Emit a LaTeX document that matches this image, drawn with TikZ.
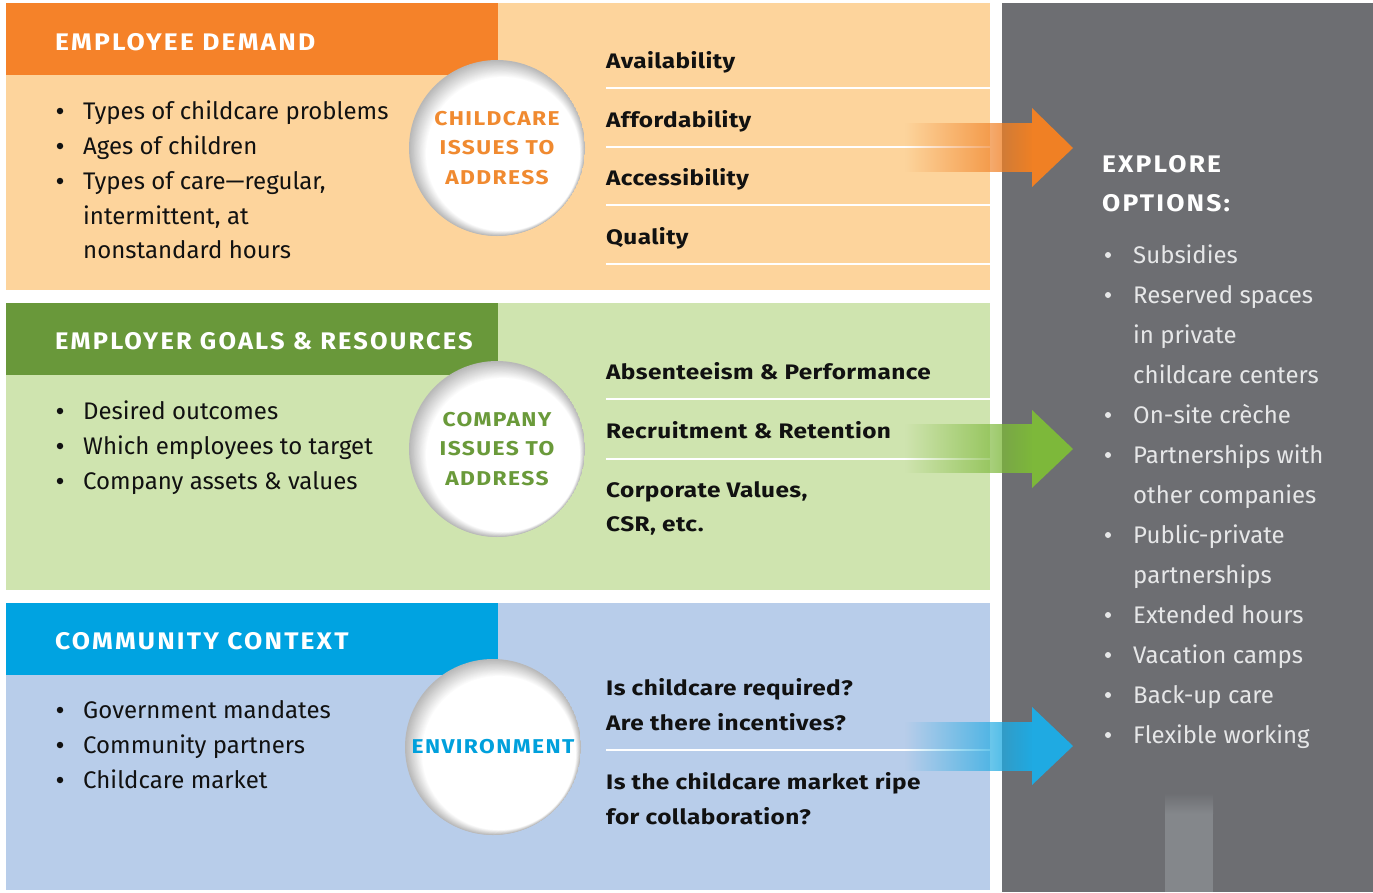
\documentclass[tikz,border=0pt]{standalone}
\usepackage{fontspec}
\setmainfont{Fira Sans}
\newfontfamily\keyfont[FakeStretch=1.16,LetterSpace=2]{Fira Sans}
\newfontfamily\hdfont[FakeStretch=1.1,LetterSpace=9]{Fira Sans}
\newfontfamily\hdfontb[FakeStretch=1.06,LetterSpace=9]{Fira Sans}
\newfontfamily\cfont[FakeStretch=1.14,LetterSpace=7]{Fira Sans}
\usetikzlibrary{fadings,calc}
\definecolor{txt}{HTML}{111111}
\definecolor{obg}{HTML}{FDD49C}
\definecolor{ohd}{HTML}{F58229}
\definecolor{otx}{HTML}{F08A30}
\definecolor{oar}{HTML}{F08024}
\definecolor{gbg}{HTML}{CFE4AF}
\definecolor{ghd}{HTML}{69983A}
\definecolor{gtx}{HTML}{6A9A3A}
\definecolor{gar}{HTML}{7DB83A}
\definecolor{bbg}{HTML}{B8CDEA}
\definecolor{bhd}{HTML}{00A3E1}
\definecolor{btx}{HTML}{00A0DC}
\definecolor{bar}{HTML}{1FAAE2}
\definecolor{gry}{HTML}{6D6E72}
\definecolor{gryl}{HTML}{84878B}
\definecolor{opt}{HTML}{E6E7E8}
\newcommand{\softball}[1]{%
  \begin{scope}
    \clip (#1) circle (88);
    \foreach \k in {0,...,20} {
      \pgfmathsetmacro{\shadeval}{28*(1-\k/20)}
      \fill[black!\shadeval!white] ($(#1)+(0.3*\k,-0.3*\k)$) circle ({88-0.55*\k});
    }
  \end{scope}}
\begin{document}
\begin{tikzpicture}[x=1pt,y=1pt,
  hdr/.style={font=\fontsize{24}{28}\selectfont\hdfont\bfseries, text=white, anchor=base west, inner sep=0},
  item/.style={font=\fontsize{24}{35}\selectfont, anchor=base west, inner sep=0, text=txt},
  bul/.style={circle, fill=txt, inner sep=0, minimum size=6.5},
  key/.style={font=\fontsize{21}{25}\selectfont\keyfont\bfseries, anchor=base west, inner sep=0, text=txt},
  circ/.style={circle, minimum size=176, inner sep=0, align=center, font=\fontsize{20}{29.5}\selectfont\cfont\bfseries},
  divider/.style={draw=white, line width=2.5},
  oitem/.style={font=\fontsize{24}{40}\selectfont, anchor=base west, inner sep=0, text=opt},
  obul/.style={circle, fill=opt, inner sep=0, minimum size=6},
  ohdr/.style={font=\fontsize{24}{28}\selectfont\hdfont\bfseries, text=white, anchor=base west, inner sep=0}
]
\useasboundingbox (0,0) rectangle (1373,-892);
\fill[white] (0,0) rectangle (1373,-892);
% panels
\fill[obg] (6,-3) rectangle (990,-290);
\fill[ohd] (6,-3) rectangle (498,-75);
\fill[gbg] (6,-303) rectangle (990,-590);
\fill[ghd] (6,-303) rectangle (498,-375);
\fill[bbg] (6,-603) rectangle (990,-890);
\fill[bhd] (6,-603) rectangle (498,-675);
\fill[gry] (1002,-3) rectangle (1373,-892);
\fill[gryl] (1165,-813) rectangle (1213,-892);
\shade[top color=gry, bottom color=gryl] (1165,-793) rectangle (1213,-813.5);
% headers
\node[hdr] (h1) at (55,-50) {EMPLOYEE DEMAND};
\node[hdr, font=\fontsize{24}{28}\selectfont\hdfontb\bfseries] (h2) at (55,-349) {EMPLOYER GOALS \& RESOURCES};
\node[hdr] (h3) at (55,-649) {COMMUNITY CONTEXT};
% left lists
\node[bul] (b11) at (60,-111) {};
\node[item] (l11) at (83,-119) {Types of childcare problems};
\node[bul] (b12) at (60,-146) {};
\node[item] (l12) at (83,-154) {Ages of children};
\node[bul] (b13) at (60,-181) {};
\node[item] (l13) at (83,-189) {Types of care—regular,};
\node[item] (l14) at (83,-224) {intermittent, at};
\node[item] (l15) at (83,-258) {nonstandard hours};
\node[bul] (b21) at (60,-411) {};
\node[item] (l21) at (83,-419) {Desired outcomes};
\node[bul] (b22) at (60,-446) {};
\node[item] (l22) at (83,-454) {Which employees to target};
\node[bul] (b23) at (60,-481) {};
\node[item] (l23) at (83,-489) {Company assets \& values};
\node[bul] (b31) at (60,-710) {};
\node[item] (l31) at (83,-718) {Government mandates};
\node[bul] (b32) at (60,-745) {};
\node[item] (l32) at (83,-753) {Community partners};
\node[bul] (b33) at (60,-780) {};
\node[item] (l33) at (83,-788) {Childcare market};
% dividers
\foreach \y in {88,147,205,264,399,459,750} \draw[divider] (606,-\y) -- (990,-\y);
% key texts
\node[key] (k11) at (606,-68) {Availability};
\node[key] (k12) at (606,-127) {Affordability};
\node[key] (k13) at (606,-185) {Accessibility};
\node[key] (k14) at (606,-244) {Quality};
\node[key] (k21) at (606,-379) {Absenteeism \& Performance};
\node[key] (k22) at (606,-438) {Recruitment \& Retention};
\node[key] (k23) at (606,-497) {Corporate Values,};
\node[key] (k24) at (606,-531) {CSR, etc.};
\node[key] (k31) at (606,-695) {Is childcare required?};
\node[key] (k32) at (606,-730) {Are there incentives?};
\node[key] (k33) at (606,-789) {Is the childcare market ripe};
\node[key] (k34) at (606,-824) {for collaboration?};
% circles
\coordinate (p1) at (497,-148);
\coordinate (p2) at (497,-449);
\coordinate (p3) at (493,-747);
\softball{p1}
\softball{p2}
\softball{p3}
\node[circ, text=otx] (c1) at (p1) {CHILDCARE\\ISSUES TO\\ADDRESS};
\node[circ, text=gtx] (c2) at (p2) {COMPANY\\ISSUES TO\\ADDRESS};
\node[circ, text=btx] (c3) at (p3) {ENVIRONMENT};
% arrows
\fill[oar, path fading=west] (905,-123) rectangle (1033,-172);
\fill[oar] (1032,-108) -- (1073,-148) -- (1032,-187) -- cycle;
\fill[gar, path fading=west] (905,-424) rectangle (1033,-473);
\fill[gar] (1032,-410) -- (1073,-449) -- (1032,-488) -- cycle;
\fill[bar, path fading=west] (905,-722) rectangle (1033,-771);
\fill[bar] (1032,-707) -- (1073,-746) -- (1032,-785) -- cycle;
% explore
\node[ohdr] (e1) at (1102,-172) {EXPLORE};
\node[ohdr] (e2) at (1102,-211) {OPTIONS:};
\node[obul] (ob1) at (1108,-255) {};
\node[oitem] (o1) at (1133,-263) {Subsidies};
\node[obul] (ob2) at (1108,-295) {};
\node[oitem] (o2) at (1133,-303) {Reserved spaces};
\node[oitem] (o3) at (1133,-343) {in private};
\node[oitem] (o4) at (1133,-383) {childcare centers};
\node[obul] (ob5) at (1108,-415) {};
\node[oitem] (o5) at (1133,-423) {On-site crèche};
\node[obul] (ob6) at (1108,-455) {};
\node[oitem] (o6) at (1133,-463) {Partnerships with};
\node[oitem] (o7) at (1133,-503) {other companies};
\node[obul] (ob8) at (1108,-535) {};
\node[oitem] (o8) at (1133,-543) {Public-private};
\node[oitem] (o9) at (1133,-583) {partnerships};
\node[obul] (ob10) at (1108,-615) {};
\node[oitem] (o10) at (1133,-623) {Extended hours};
\node[obul] (ob11) at (1108,-655) {};
\node[oitem] (o11) at (1133,-663) {Vacation camps};
\node[obul] (ob12) at (1108,-695) {};
\node[oitem] (o12) at (1133,-703) {Back-up care};
\node[obul] (ob13) at (1108,-735) {};
\node[oitem] (o13) at (1133,-743) {Flexible working};
\end{tikzpicture}
\end{document}
